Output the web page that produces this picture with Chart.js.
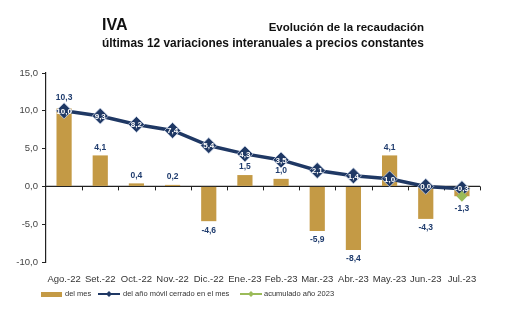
<!DOCTYPE html>
<html><head><meta charset="utf-8">
<script src="https://cdn.jsdelivr.net/npm/chart.js@4/dist/chart.umd.min.js"></script>
<style>
html,body{margin:0;padding:0;background:#fff;}
#wrap{position:relative;width:506px;height:328px;font-family:"Liberation Sans",Arial,sans-serif;}
canvas{position:absolute;left:0;top:0;}
.t{position:absolute;font-weight:bold;color:#111;white-space:nowrap;}
</style></head>
<body>
<div id="wrap">
<canvas id="c" width="506" height="328"></canvas>
<div class="t" style="left:102px;top:16px;font-size:16px;">IVA</div>
<div class="t" style="right:82px;top:21px;font-size:11.5px;">Evolución de la recaudación</div>
<div class="t" style="left:102px;top:36px;font-size:11.9px;">últimas 12 variaciones interanuales a precios constantes</div>
</div>
<script>
const categories = ['Ago.-22','Set.-22','Oct.-22','Nov.-22','Dic.-22','Ene.-23','Feb.-23','Mar.-23','Abr.-23','May.-23','Jun.-23','Jul.-23'];
const delMes = [10.3, 4.1, 0.4, 0.2, -4.6, 1.5, 1.0, -5.9, -8.4, 4.1, -4.3, -1.3];
const anoMovil = [10.0, 9.3, 8.2, 7.4, 5.4, 4.3, 3.5, 2.1, 1.4, 1.0, 0.0, -0.3];
const acumulado = [null, null, null, null, null, null, null, null, null, null, null, -1.3];
const yTicks = [-10, -5, 0, 5, 10, 15];

const GOLD = '#c49a45', NAVY = '#1f3864', GREEN = '#9bbb59', LBL = '#1f3c6e';
const FONT = '"Liberation Sans", Arial, sans-serif';
const fmt = v => v.toFixed(1).replace('.', ',');

const overlay = {
  id: 'overlay',
  beforeDatasetsDraw(chart) {
    const {ctx, chartArea: a, scales: {x, y}} = chart;
    const y0 = y.getPixelForValue(0);
    ctx.save();
    ctx.strokeStyle = '#222'; ctx.lineWidth = 1.2;
    ctx.beginPath(); ctx.moveTo(a.left, y0); ctx.lineTo(a.right, y0); ctx.stroke();
    ctx.lineWidth = 1;
    for (let i = 0; i < categories.length; i++) {
      const px = Math.round(x.getPixelForValue(i + 0.5)) + 0.5;
      ctx.beginPath(); ctx.moveTo(px, y0); ctx.lineTo(px, y0 + 4); ctx.stroke();
    }
    ctx.restore();
  },
  afterDatasetsDraw(chart) {
    const {ctx, scales: {x, y}} = chart;
    const barMeta = chart.getDatasetMeta(0);
    const lineMeta = chart.getDatasetMeta(1);
    ctx.save();
    ctx.textAlign = 'center'; ctx.textBaseline = 'middle';
    ctx.font = 'bold 8.5px ' + FONT;
    delMes.forEach((v, i) => {
      const b = barMeta.data[i];
      const ly = lineMeta.data[i].y;
      let ty;
      if (v >= 0) {
        let top = b.y;
        if (Math.abs(top - ly) < 12) top = Math.min(top, ly - 5);
        ty = top - 8;
      } else {
        ty = b.y + 9;
        if (acumulado[i] !== null) ty = b.y + 12;
      }
      ctx.fillStyle = LBL;
      ctx.fillText(fmt(v), b.x, ty);
    });
    ctx.fillStyle = '#ffffff';
    ctx.font = 'bold 8px ' + FONT;
    anoMovil.forEach((v, i) => {
      const p = lineMeta.data[i];
      ctx.fillText(fmt(v), p.x, p.y + 0.5);
    });
    // legend
    ctx.textAlign = 'left';
    ctx.font = '7.5px ' + FONT;
    const ly = 294;
    ctx.fillStyle = GOLD; ctx.fillRect(41, ly - 2, 21, 5);
    ctx.fillStyle = '#333'; ctx.fillText('del mes', 65, ly);
    const lineItem = (x0, col, r) => {
      ctx.strokeStyle = col; ctx.lineWidth = 2;
      ctx.beginPath(); ctx.moveTo(x0, ly); ctx.lineTo(x0 + 22, ly); ctx.stroke();
      ctx.fillStyle = col;
      ctx.beginPath(); ctx.moveTo(x0 + 11, ly - r); ctx.lineTo(x0 + 11 + r, ly); ctx.lineTo(x0 + 11, ly + r); ctx.lineTo(x0 + 11 - r, ly); ctx.closePath(); ctx.fill();
    };
    lineItem(98, NAVY, 3);
    ctx.fillStyle = '#333'; ctx.fillText('del año móvil cerrado en el mes', 123, ly);
    lineItem(240, GREEN, 3);
    ctx.fillStyle = '#333'; ctx.fillText('acumulado año 2023', 264, ly);
    ctx.restore();
  }
};

new Chart(document.getElementById('c'), {
  data: {
    labels: categories,
    datasets: [
      {type: 'bar', label: 'del mes', data: delMes, backgroundColor: GOLD, barPercentage: 0.42, categoryPercentage: 1, order: 3},
      {type: 'line', label: 'del año móvil cerrado en el mes', data: anoMovil, borderColor: NAVY, borderWidth: 3.5,
       pointStyle: 'rectRot', pointRadius: 8, pointBackgroundColor: NAVY, pointBorderColor: '#c9d3e6', pointBorderWidth: 0.8, tension: 0, order: 2},
      {type: 'line', label: 'acumulado año 2023', data: acumulado, borderColor: GREEN, borderWidth: 2,
       pointStyle: 'rectRot', pointRadius: 4, pointBackgroundColor: GREEN, pointBorderColor: GREEN, order: 1}
    ]
  },
  options: {
    responsive: false, animation: false,
    layout: {padding: {top: 73, right: 26, left: 0, bottom: 0}},
    plugins: {legend: {display: false}, tooltip: {enabled: false}},
    scales: {
      x: {
        grid: {display: false, drawTicks: false},
        border: {display: false},
        ticks: {color: '#333', font: {family: FONT, size: 9.5}, padding: 12, maxRotation: 0, autoSkip: false},
        afterFit(s) { s.height = 66; }
      },
      y: {
        min: -10, max: 15,
        afterBuildTicks(s) { s.ticks = yTicks.map(v => ({value: v})); },
        grid: {drawOnChartArea: false, tickLength: 4, color: '#222'},
        border: {display: true, color: '#222', width: 1.2},
        ticks: {color: '#444', font: {family: FONT, size: 9.5}, padding: 4, callback: v => fmt(v)},
        afterFit(s) { s.width = 46; }
      }
    }
  },
  plugins: [overlay]
});
</script>
</body></html>
